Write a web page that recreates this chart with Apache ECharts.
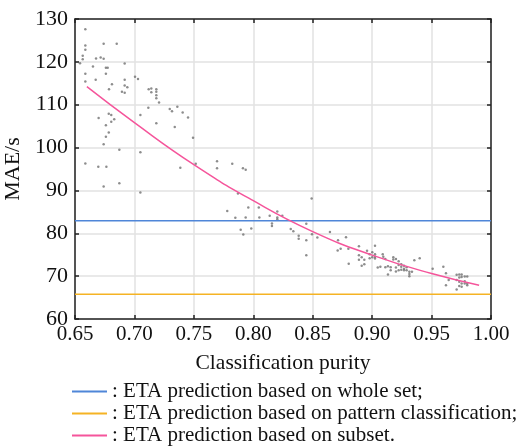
<!DOCTYPE html>
<html>
<head>
<meta charset="utf-8">
<script src="https://cdn.jsdelivr.net/npm/echarts@6/dist/echarts.min.js"></script>
<style>
  html, body { margin: 0; padding: 0; background: #fff; }
  #chart { width: 522px; height: 447px; }
</style>
</head>
<body>
<div id="chart"></div>
<script>
// Axis ranges and tick spacing
const xRange = [0.65, 1.00];
const xStep = 0.05;
const yRange = [60, 130];
const yStep = 10;

// Reference MAE levels (s)
const wholeSetMae = 82.9;
const patternMae = 65.8;

// Fitted MAE of subset prediction vs purity
const subsetCurve = [
  [0.66, 114.2], [0.70, 105.8], [0.75, 96.0], [0.80, 87.6],
  [0.85, 80.4], [0.90, 74.9], [0.95, 70.6], [0.99, 67.9]
];

// Per-subset MAE samples: [purity, MAE]
const samples = [
  [0.6587,127.6],[0.6587,123.8],[0.6587,122.8],[0.6565,121.4],[0.6565,120.6],[0.6542,119.7],[0.6587,117.2],[0.6587,115.4],[0.6587,96.3],
  [0.6651,118.9],[0.6677,120.8],[0.6674,115.8],[0.6716,121.0],[0.6741,120.7],[0.6741,124.2],[0.6851,124.2],
  [0.6760,118.6],[0.6775,118.6],[0.6760,117.2],[0.6918,119.6],[0.6699,106.9],[0.6696,95.5],[0.6764,95.5],[0.6741,100.8],
  [0.6760,102.5],[0.6784,103.5],[0.6760,105.2],[0.6784,107.9],[0.6805,107.6],[0.6805,106.0],[0.6830,106.6],
  [0.6786,113.6],[0.6811,114.8],[0.6895,113.0],[0.6918,112.8],[0.6918,115.8],[0.6918,114.5],[0.6940,114.1],[0.6873,99.5],
  [0.7005,116.5],[0.7030,116.0],[0.7120,113.6],[0.7142,113.8],[0.7142,112.9],[0.7184,113.6],[0.7184,113.0],[0.7184,112.2],[0.7184,111.5],
  [0.7207,110.5],[0.7117,109.3],[0.7050,107.6],[0.7184,105.7],[0.7050,98.9],[0.7297,109.0],[0.7316,108.5],[0.7361,109.5],[0.7406,108.2],[0.7451,107.0],[0.7339,104.8],[0.7493,102.3],
  [0.7386,95.3],[0.7516,96.2],[0.7695,96.8],[0.7695,95.2],[0.7823,96.2],[0.7913,95.2],[0.7936,94.8],
  [0.6741,90.9],[0.6873,91.7],[0.7050,89.5],
  [0.7781,85.2],[0.7849,83.6],[0.7871,89.3],[0.7936,83.7],[0.7958,86.0],[0.7894,80.8],[0.7916,79.7],[0.7983,81.1],[0.8046,86.0],[0.8051,83.7],
  [0.8138,84.1],[0.8157,82.3],[0.8157,81.7],[0.8202,85.1],[0.8202,83.7],[0.8202,83.3],[0.8244,84.1],[0.8315,81.0],[0.8337,80.5],[0.8382,79.4],[0.8382,78.7],
  [0.8446,82.2],[0.8446,78.4],[0.8446,74.9],[0.8491,88.1],[0.8494,79.8],[0.8539,79.0],[0.8645,80.3],[0.8713,78.4],[0.8780,79.1],[0.8710,76.0],[0.8735,76.4],[0.8800,76.4],[0.8803,72.9],
  [0.8889,77.0],[0.8889,74.9],[0.8889,73.8],[0.8912,74.4],[0.8912,72.4],[0.8934,72.8],[0.8934,73.8],[0.8957,75.9],[0.8979,74.2],[0.8979,75.1],[0.9001,75.6],[0.9001,74.4],
  [0.9024,77.1],[0.9024,74.5],[0.9024,74.1],[0.9024,75.1],[0.9047,72.0],[0.9069,72.2],[0.9089,75.1],[0.9094,74.5],[0.9111,74.0],[0.9111,72.1],[0.9133,72.3],[0.9133,70.4],[0.9156,71.4],[0.9156,72.1],[0.9178,74.4],[0.9178,73.9],
  [0.9200,74.0],[0.9200,72.0],[0.9200,71.1],[0.9223,73.5],[0.9223,72.6],[0.9223,71.4],[0.9245,72.8],[0.9245,72.2],[0.9245,71.5],[0.9268,72.4],[0.9268,71.7],[0.9268,71.4],[0.9290,72.1],[0.9290,71.4],
  [0.9313,70.5],[0.9313,71.0],[0.9313,70.0],[0.9335,71.0],[0.9355,73.7],[0.9400,74.2],[0.9509,71.7],[0.9599,72.2],[0.9621,70.7],[0.9621,67.9],[0.9644,69.1],
  [0.9711,70.3],[0.9711,69.1],[0.9711,66.9],[0.9733,70.4],[0.9733,69.7],[0.9733,68.7],[0.9733,67.7],[0.9753,70.4],[0.9753,69.8],[0.9753,68.3],[0.9753,67.5],
  [0.9779,69.9],[0.9779,68.8],[0.9779,68.3],[0.9800,69.9],[0.9800,68.3],[0.9800,67.9]
];

// Legend labels
const seriesNames = [
  'ETA prediction based on whole set;',
  'ETA prediction based on pattern classification;',
  'ETA prediction based on subset.'
];
const colors = ['#4f86d8', '#f5b324', '#f5559b'];

const FONT = '"Liberation Serif", "DejaVu Serif", serif';

const chart = echarts.init(document.getElementById('chart'), null, { renderer: 'canvas' });

const frameAxis = (extra) => Object.assign({
  type: 'value',
  axisLine: { show: true, onZero: false, lineStyle: { color: '#222', width: 1.5 } },
  axisTick: { show: true, inside: true, length: 4, lineStyle: { color: '#222', width: 1.5 } },
  splitLine: { show: false },
  axisLabel: { show: false }
}, extra);

chart.setOption({
  animation: false,
  backgroundColor: '#fff',
  textStyle: { fontFamily: FONT },
  grid: { left: 75, right: 31, top: 19, bottom: 128, containLabel: false, outerBoundsMode: 'none' },
  legend: {
    orient: 'vertical',
    left: 72,
    top: 381,
    height: 80,
    padding: 0,
    data: seriesNames,
    icon: 'rect',
    itemWidth: 35,
    itemHeight: 2,
    itemGap: 1,
    selectedMode: false,
    formatter: name => ': ' + name,
    textStyle: { fontFamily: FONT, fontSize: 21, color: '#111', lineHeight: 21 }
  },
  xAxis: [
    {
      type: 'value',
      min: xRange[0], max: xRange[1], interval: xStep,
      name: 'Classification purity',
      nameLocation: 'middle',
      nameGap: 33,
      nameTextStyle: { fontFamily: FONT, fontSize: 21.5, color: '#111' },
      axisLine: { show: true, onZero: false, lineStyle: { color: '#222', width: 1.5 } },
      axisTick: { show: true, inside: true, length: 4, lineStyle: { color: '#222', width: 1.5 } },
      axisLabel: { fontFamily: FONT, fontSize: 21, color: '#111', margin: 5, formatter: v => v.toFixed(2) },
      splitLine: { show: true, lineStyle: { color: '#e2e2e2', width: 1.5 } }
    },
    frameAxis({ position: 'top', min: xRange[0], max: xRange[1], interval: xStep })
  ],
  yAxis: [
    {
      type: 'value',
      min: yRange[0], max: yRange[1], interval: yStep,
      name: 'MAE/s',
      nameLocation: 'middle',
      nameGap: 45,
      nameTextStyle: { fontFamily: FONT, fontSize: 22, color: '#111' },
      axisLine: { show: true, onZero: false, lineStyle: { color: '#222', width: 1.5 } },
      axisTick: { show: true, inside: true, length: 4, lineStyle: { color: '#222', width: 1.5 } },
      axisLabel: { fontFamily: FONT, fontSize: 22, color: '#111', margin: 7 },
      splitLine: { show: true, lineStyle: { color: '#e2e2e2', width: 1.5 } }
    },
    frameAxis({ position: 'right', min: yRange[0], max: yRange[1], interval: yStep })
  ],
  series: [
    {
      name: 'samples',
      type: 'scatter',
      data: samples,
      symbol: 'circle',
      symbolSize: 2.5,
      itemStyle: { color: '#707070' },
      z: 3
    },
    {
      name: seriesNames[0],
      type: 'line',
      data: [[xRange[0], wholeSetMae], [xRange[1], wholeSetMae]],
      showSymbol: false,
      symbol: 'none',
      lineStyle: { color: colors[0], width: 1.5 },
      itemStyle: { color: colors[0] },
      z: 4
    },
    {
      name: seriesNames[1],
      type: 'line',
      data: [[xRange[0], patternMae], [xRange[1], patternMae]],
      showSymbol: false,
      symbol: 'none',
      lineStyle: { color: colors[1], width: 1.5 },
      itemStyle: { color: colors[1] },
      z: 4
    },
    {
      name: seriesNames[2],
      type: 'line',
      data: subsetCurve,
      smooth: true,
      showSymbol: false,
      symbol: 'none',
      lineStyle: { color: colors[2], width: 1.5 },
      itemStyle: { color: colors[2] },
      z: 5
    }
  ]
});
</script>
</body>
</html>
